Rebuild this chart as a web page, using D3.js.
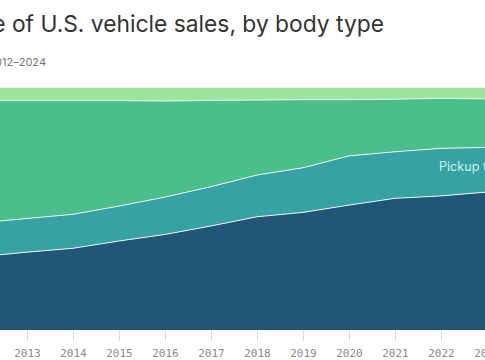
<!DOCTYPE html>
<html><head><meta charset="utf-8">
<script src="https://cdn.jsdelivr.net/npm/d3@7"></script>
<style>body{margin:0;background:#fff;overflow:hidden}svg{display:block}</style>
</head><body>
<script>
const years = [2012,2013,2014,2015,2016,2017,2018,2019,2020,2021,2022,2023,2024];
const suvs    = [30.3,32.1,33.7,36.7,39.4,42.9,46.7,48.5,51.5,54.3,55.3,56.9,58.1];
const pickups = [13.9,13.9,14.0,14.4,15.4,16.2,17.2,18.4,20.3,19.2,19.6,18.4,17.4];
const cars    = [50.4,48.6,46.9,43.5,39.6,35.6,30.9,28.1,23.2,21.7,20.6,20.0,19.8];
const vans    = [5.4,5.4,5.4,5.4,5.6,5.3,5.2,5.0,5.0,4.8,4.5,4.7,4.7];
const seriesNames = ["SUVs","Pickup trucks","Cars","Vans"];
const colors = ["#215677","#36a2a4","#4abf8c","#9de59c"];

const W = 485, H = 360;
const svg = d3.select("body").append("svg").attr("width", W).attr("height", H);

const rows = years.map((y,i)=>({year:y, "SUVs":suvs[i], "Pickup trucks":pickups[i], "Cars":cars[i], "Vans":vans[i]}));
const stack = d3.stack().keys(seriesNames);
const layers = stack(rows);

const x = d3.scaleLinear().domain([2012,2024]).range([-19,533]);
const y = d3.scaleLinear().domain([0,100]).range([330,87.5]);

const area = d3.area().x(d=>x(d.data.year)).y0(d=>y(d[0])).y1(d=>y(d[1]));
const line = d3.line().x(d=>x(d.data.year)).y(d=>y(d[1]));

svg.append("g").selectAll("path").data(layers).join("path")
  .attr("d", area).attr("fill", (d,i)=>colors[i]);
svg.append("g").selectAll("path").data(layers).join("path")
  .attr("d", line).attr("fill","none").attr("stroke","#e8f4f0").attr("stroke-width",1);

const axis = d3.axisBottom(x).tickValues(years).tickFormat(d3.format("d")).tickSize(11).tickPadding(8);
const ax = svg.append("g").attr("transform","translate(0,330)").call(axis);
ax.select(".domain").remove();
ax.selectAll(".tick line").attr("stroke","#dcdcdc");
ax.selectAll(".tick text").attr("fill","#8a8a8a").attr("font-family","'DejaVu Sans Mono', monospace").attr("font-size",11);

svg.append("text").attr("x",384).attr("y",32).attr("text-anchor","end")
  .attr("font-family","Inter, 'Open Sans', sans-serif").attr("font-size",22.8).attr("fill","#333")
  .text("Share of U.S. vehicle sales, by body type");
svg.append("text").attr("x",46).attr("y",66).attr("text-anchor","end")
  .attr("font-family","Inter, 'Open Sans', sans-serif").attr("font-size",11).attr("fill","#777")
  .text("Annual, 2012–2024");

svg.append("text").attr("x",439).attr("y",171)
  .attr("font-family","Inter, 'Open Sans', sans-serif").attr("font-size",12.6).attr("fill","#c9f1ee")
  .text("Pickup trucks");
</script>
</body></html>
